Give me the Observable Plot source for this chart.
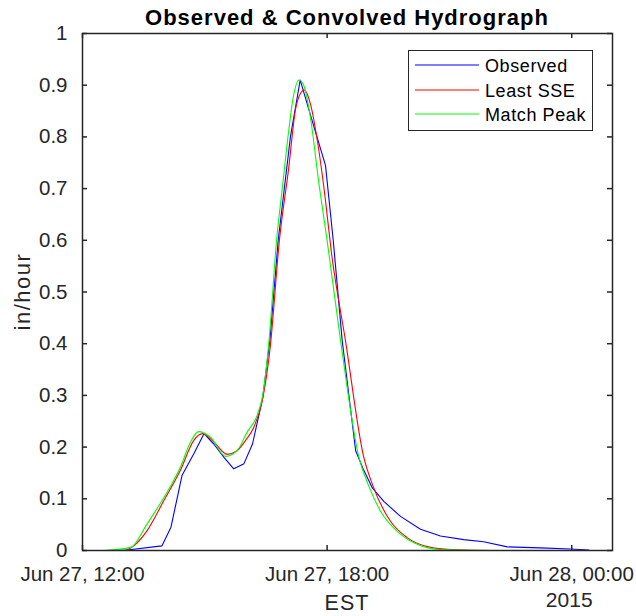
<!DOCTYPE html>
<html><head><meta charset="utf-8">
<script src="https://cdn.jsdelivr.net/npm/d3@7"></script>
<script src="https://cdn.jsdelivr.net/npm/@observablehq/plot@0.6"></script>
<style>
body{margin:0;background:#fff}
#chart svg{display:block;font-family:"Liberation Sans",Arial,Helvetica,sans-serif}
#chart svg text{font-size:20.5px;letter-spacing:0}
</style></head><body><div id="chart"></div>
<script>
// ---- data (hours after Jun 27 2015 12:00 EST, in/hour) ----
const seriesNames = ["Observed", "Least SSE", "Match Peak"];
const seriesColors = ["#0000ff", "#ff0000", "#00ff00"];

const obsHours = [0.55,1.1,1.95,2.17,2.44,2.73,2.98,3.22,3.47,3.71,3.96,4.17,4.42,4.60,4.80,5.10,5.34,5.60,5.96,6.15,6.37,6.70,6.90,7.11,7.39,7.80,8.29,8.78,9.35,9.84,10.42,11.23,11.97,12.42];
const obsValues = [0,0.001,0.009,0.045,0.145,0.187,0.226,0.206,0.180,0.158,0.168,0.206,0.295,0.41,0.60,0.80,0.91,0.84,0.745,0.60,0.406,0.193,0.155,0.121,0.095,0.066,0.041,0.028,0.021,0.017,0.007,0.005,0.003,0.001];

const sseHours = [0.55,1.0,1.3,1.59,2.0,2.40,2.73,2.94,3.22,3.55,3.79,4.0,4.20,4.41,4.60,4.83,5.06,5.22,5.36,5.44,5.59,5.76,5.96,6.10,6.45,6.90,7.11,7.55,7.96,8.54,9.03,10.0,12.46];
const sseValues = [0,0,0.012,0.039,0.097,0.155,0.213,0.226,0.21,0.186,0.193,0.213,0.238,0.29,0.39,0.6,0.741,0.851,0.886,0.891,0.864,0.793,0.677,0.58,0.406,0.18,0.128,0.057,0.025,0.006,0.002,0,0];

const peakHours = [0.55,1.18,1.59,2.0,2.40,2.65,2.85,3.14,3.51,3.79,4.04,4.28,4.42,4.58,4.76,4.90,5.04,5.17,5.31,5.43,5.59,5.80,6.0,6.33,6.78,7.02,7.31,7.72,8.21,8.78,10.0,12.46];
const peakValues = [0,0.006,0.052,0.103,0.161,0.21,0.230,0.219,0.182,0.193,0.229,0.261,0.30,0.41,0.6,0.70,0.80,0.877,0.910,0.899,0.838,0.709,0.6,0.406,0.18,0.125,0.076,0.037,0.012,0.002,0,0];

const xTickHours = [0, 6, 12];
const xDomainHours = [0, 13];
const yTicks = [0,0.1,0.2,0.3,0.4,0.5,0.6,0.7,0.8,0.9,1];
const titleText = "Observed & Convolved Hydrograph";
const yLabel = "in/hour";
const xLabel = "EST";
const yearLabel = "2015";

// ---- build ----
const start = Date.UTC(2015, 5, 27, 12);
const toDate = h => new Date(start + h * 3600e3);
const mk = (hours, values, s) => hours.map((h, i) => ({t: toDate(h), v: values[i], s}));
const obsRows = mk(obsHours, obsValues, seriesNames[0]);
const sseRows = mk(sseHours, sseValues, seriesNames[1]);
const peakRows = mk(peakHours, peakValues, seriesNames[2]);
const xTicks = xTickHours.map(toDate);

const W = 636, H = 616, mL = 82, mR = 24, mT = 33, mB = 66;
const plotW = W - mL - mR, plotH = H - mT - mB;
const ink = "#262626";
const fmt = d3.utcFormat("%b %-d, %H:%M");

const chart = Plot.plot({
  width: W, height: H,
  marginLeft: mL, marginRight: mR, marginTop: mT, marginBottom: mB,
  style: {fontFamily: '"Liberation Sans", Arial, sans-serif', color: ink, background: "#fff", overflow: "visible"},
  x: {type: "utc", domain: xDomainHours.map(toDate)},
  y: {domain: [0, 1]},
  color: {domain: seriesNames, range: seriesColors},
  marks: [
    Plot.line(obsRows, {x: "t", y: "v", stroke: "s", strokeWidth: 1.1, curve: "linear"}),
    Plot.line(sseRows, {x: "t", y: "v", stroke: "s", strokeWidth: 1.1, curve: "monotone-x"}),
    Plot.line(peakRows, {x: "t", y: "v", stroke: "s", strokeWidth: 1.1, curve: "monotone-x"}),
    Plot.tickX(xTicks, {x: d => d, insetTop: plotH - 5, stroke: ink, strokeWidth: 1.5}),
    Plot.tickX(xTicks, {x: d => d, insetBottom: plotH - 5, stroke: ink, strokeWidth: 1.5}),
    Plot.tickY(yTicks, {y: d => d, insetRight: plotW - 5, stroke: ink, strokeWidth: 1.5}),
    Plot.tickY(yTicks, {y: d => d, insetLeft: plotW - 5, stroke: ink, strokeWidth: 1.5}),
    Plot.axisX(xTicks, {tickSize: 0, tickPadding: 16, tickFormat: fmt, fill: ink, label: null}),
    Plot.axisY(yTicks, {tickSize: 0, tickPadding: 15, tickFormat: d => String(+d.toFixed(1)), fill: ink, label: null}),
    Plot.frame({stroke: ink, strokeWidth: 1.5})
  ]
});
document.getElementById("chart").appendChild(chart);

const svg = d3.select(chart);
const cx = mL + plotW / 2;
const addText = (x, y, txt, size, spacing, anchor, fill, weight) =>
  svg.append("text").attr("x", x).attr("y", y).attr("text-anchor", anchor)
    .attr("fill", fill).style("font-size", size + "px").style("letter-spacing", spacing + "px")
    .style("font-weight", weight || "normal").text(txt);

addText(cx, 25, titleText, 22, 1, "middle", "#000", "bold");
svg.append("text").attr("transform", `translate(30,${mT + plotH / 2}) rotate(-90)`)
  .attr("text-anchor", "middle").attr("fill", ink)
  .style("font-size", "22px").style("letter-spacing", "1.5px").text(yLabel);
addText(cx, 610, xLabel, 21.5, 1, "middle", ink);
const xs = d3.scaleUtc().domain(xDomainHours.map(toDate)).range([mL, W - mR]);
addText(xs(xTicks[2]) - 2, 607, yearLabel, 21, 0, "middle", ink);

// legend
const lg = svg.append("g");
lg.append("rect").attr("x", 408.5).attr("y", 50.5).attr("width", 184).attr("height", 80)
  .attr("fill", "#fff").attr("stroke", ink).attr("stroke-width", 1);
const rowsY = [65, 90, 114];
seriesNames.forEach((name, i) => {
  lg.append("line").attr("x1", 415).attr("x2", 479).attr("y1", rowsY[i]).attr("y2", rowsY[i])
    .attr("stroke", seriesColors[i]).attr("stroke-width", 1);
  lg.append("text").attr("x", 485).attr("y", rowsY[i] + 7).attr("text-anchor", "start")
    .attr("fill", "#000").style("font-size", "18px").style("letter-spacing", "0.6px").text(name);
});
</script></body></html>
